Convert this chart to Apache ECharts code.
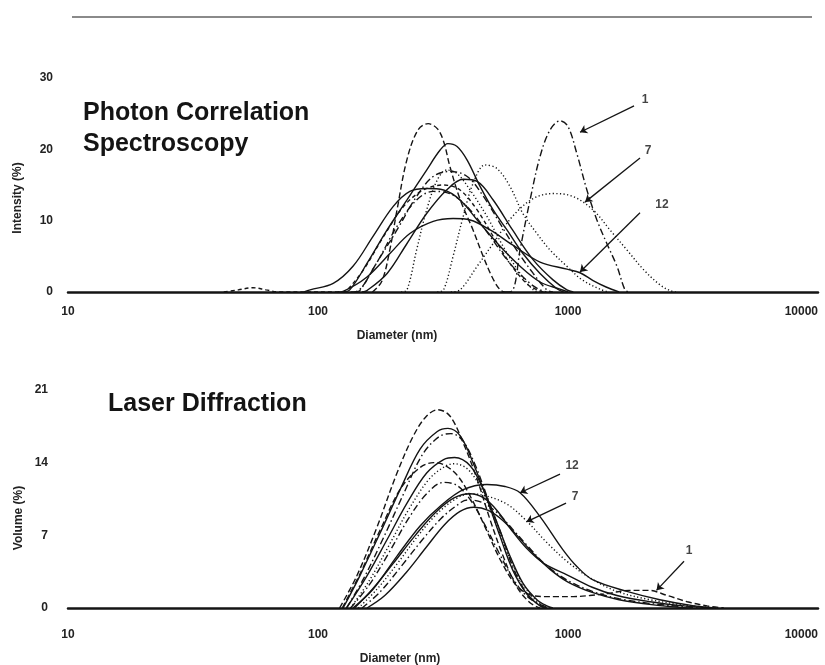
<!DOCTYPE html>
<html>
<head>
<meta charset="utf-8">
<script src="https://cdn.jsdelivr.net/npm/echarts@6/dist/echarts.min.js"></script>
<style>
  html, body { margin: 0; padding: 0; background: #ffffff; }
  #chart { width: 825px; height: 665px; }
</style>
</head>
<body>
<div id="chart"></div>
<script>
// ---- Axis ticks ----
const diameterTicks = [10, 100, 1000, 10000];
const intensityTicks = [0, 10, 20, 30];
const volumeTicks = [0, 7, 14, 21];

// ---- Photon correlation spectroscopy: [diameter (nm), intensity (%)] ----
const pcsSample1 = [[560,0],[600,0.2],[643,5.9],[705,12.9],[773,19],[847,22.7],[929,24],[1000,23.2],[1085,19.4],[1190,14.3],[1305,10.1],[1430,6.8],[1570,3.6],[1690,0.3],[1750,0]];
const pcsSample2 = [[165,0],[180,1.5],[194,6],[207,11.5],[227,18.6],[251,22.7],[276,23.6],[300,22.9],[318,21.1],[337,17.6],[370,13],[417,8.7],[453,5.4],[497,2.1],[535,0.3],[560,0]];
const pcsSample3 = [[125,0],[134,0.3],[157,4],[189,8.7],[227,12.9],[272,17.1],[308,19.9],[331,20.8],[360,20.4],[395,18.5],[445,14.8],[502,11.5],[570,8.7],[660,5.4],[773,2.6],[900,0.5],[960,0]];
const pcsSample4 = [[300,0],[318,0.3],[347,5],[381,10.6],[417,15.2],[466,17.8],[520,17.3],[586,14.8],[660,11],[751,8.2],[847,5.9],[990,3.6],[1140,1.7],[1343,0.4],[1450,0]];
const pcsSample5 = [[140,0],[147,0.2],[171,4],[207,8.7],[248,13.4],[289,16.2],[337,16.9],[395,16.2],[459,13.4],[535,9.6],[622,5.9],[726,2.6],[823,0.3],[870,0]];
const pcsSample6 = [[150,0],[157,0.2],[189,2.6],[227,6.8],[272,11],[327,14.3],[381,15.8],[433,15.5],[502,12.9],[600,8.7],[726,4.5],[871,1.7],[990,0.3],[1050,0]];
const pcsSample7 = [[340,0],[370,0.3],[433,3.6],[502,6.8],[600,10.6],[726,13.1],[871,13.8],[1045,13.4],[1260,11.5],[1472,8.7],[1720,5.9],[2010,3.1],[2333,1],[2559,0.2],[2700,0]];
const pcsSample8 = [[42,0],[48,0.3],[55,0.6],[62,0.3],[70,0],[125,0],[130,0.2],[152,3.1],[183,7.8],[220,12],[264,14.3],[318,15],[370,14.3],[433,11.5],[502,7.8],[586,4],[682,1.2],[751,0.3],[800,0]];
const pcsSample9 = [[215,0],[227,0.3],[248,5.9],[272,11.5],[300,15.7],[327,17.1],[360,16.6],[406,14.3],[474,10.6],[550,6.4],[643,2.6],[726,0.3],[770,0]];
const pcsSample10 = [[135,0],[143,0.1],[171,4],[207,9.2],[248,12.9],[289,14.1],[337,13.8],[406,11.5],[488,7.8],[586,4],[705,1.2],[773,0.3],[820,0]];
const pcsSample11 = [[88,0],[93,0.3],[115,1.2],[138,3.6],[166,7.8],[200,12],[233,14.1],[272,14.5],[318,14.3],[370,12.9],[445,9.6],[535,6.4],[643,3.6],[773,1.4],[929,0.4],[1000,0]];
const pcsSample12 = [[120,0],[126,0.1],[157,2.1],[194,5.4],[233,8.2],[289,9.9],[347,10.3],[406,10.1],[488,8.7],[600,6.6],[773,4.2],[990,3.2],[1117,2.7],[1260,1.6],[1420,0.7],[1600,0]];

// ---- Laser diffraction: [diameter (nm), volume (%)] ----
const ldSample1 = [[125,0],[148,3.4],[178,7.6],[214,11.5],[255,13.5],[290,14],[318,13.8],[360,12.8],[410,10.6],[470,7.6],[540,4.5],[620,2.2],[700,1.3],[800,1.1],[900,1.1],[1050,1.1],[1220,1.2],[1450,1.4],[1750,1.7],[2100,1.7],[2500,1.2],[3000,0.6],[3600,0.2],[4200,0]];
const ldSample2 = [[122,0],[143,3.1],[171,7.6],[207,13],[241,16.6],[272,18.5],[302,19.1],[337,18.5],[381,15.9],[433,12.4],[488,8.5],[550,5],[622,2.1],[705,0.5],[773,0]];
const ldSample3 = [[126,0],[147,3.1],[177,7.2],[213,11.4],[256,15.3],[300,17],[331,17.3],[370,16.6],[417,14],[474,10.5],[535,6.9],[600,3.7],[682,1.4],[773,0.2],[820,0]];
const ldSample4 = [[130,0],[152,2.8],[183,6.8],[220,11],[262,14.8],[305,16.5],[340,16.8],[380,16.1],[425,13.8],[480,10.4],[545,6.9],[610,3.6],[690,1.3],[780,0.2],[830,0]];
const ldSample5 = [[130,0],[157,3.1],[189,6.6],[227,10.1],[272,13],[318,14.3],[352,14.5],[406,13.7],[459,11.4],[520,8.2],[586,5],[660,2.4],[751,0.8],[823,0.2],[870,0]];
const ldSample6 = [[135,0],[160,2.6],[193,6.1],[232,9.6],[278,12.4],[320,13.6],[350,13.9],[400,13.3],[455,11.2],[515,8.1],[580,5],[655,2.4],[740,0.8],[830,0]];
const ldSample7 = [[145,0],[172,1.8],[208,4.3],[252,7],[300,9.1],[355,10.5],[404,11],[470,10.8],[570,10],[682,8.4],[823,6.3],[990,4.5],[1225,2.9],[1570,1.6],[2130,0.8],[2880,0.3],[3900,0]];
const ldSample8 = [[135,0],[160,2.2],[192,5.3],[230,8.6],[272,11],[318,12.1],[360,11.8],[410,10.3],[465,8],[530,5.3],[600,2.9],[680,1.2],[780,0.3],[860,0]];
const ldSample9 = [[140,0],[165,1.8],[200,4.3],[245,7],[295,9.2],[350,10.6],[406,11],[460,10.6],[520,9.4],[590,7.6],[680,5.8],[800,4.3],[990,3.2],[1250,2],[1570,1.2],[2130,0.6],[2900,0.2],[3800,0]];
const ldSample10 = [[150,0],[178,1.6],[215,4],[260,6.5],[310,8.6],[360,9.9],[395,10.4],[450,10.2],[520,9.2],[600,7.6],[700,5.8],[820,4.1],[990,2.7],[1250,1.6],[1600,0.9],[2200,0.4],[3000,0.1],[3600,0]];
const ldSample11 = [[157,0],[185,1.2],[225,3.4],[270,5.8],[320,8],[370,9.3],[420,9.7],[480,9.4],[550,8.4],[630,6.9],[730,5.2],[850,3.7],[1000,2.5],[1250,1.5],[1600,0.8],[2200,0.3],[3000,0]];
const ldSample12 = [[138,0],[166,1.8],[207,5],[256,7.9],[308,9.8],[381,11.4],[474,11.9],[560,11.7],[643,11.1],[773,8.8],[955,5.6],[1085,4],[1260,2.7],[1720,1.6],[2330,0.8],[3200,0.2],[3900,0]];

// ---- Sample call-outs: label text, label anchor, arrow tail, arrow head (data units) ----
const pcsCalloutText = ['1', '7', '12'];
const pcsCalloutLabel = [[2032, 26.9], [2089, 19.8], [2377, 12.2]];
const pcsCalloutFrom = [[1837, 26.1], [1941, 18.8], [1941, 11.1]];
const pcsCalloutTo = [[1117, 22.4], [1170, 12.6], [1117, 2.8]];

const ldCalloutText = ['12', '7', '1'];
const ldCalloutLabel = [[1038, 13.7], [1067, 10.7], [3048, 5.5]];
const ldCalloutFrom = [[929, 12.9], [982, 10.1], [2911, 4.5]];
const ldCalloutTo = [[643, 11.1], [682, 8.3], [2260, 1.7]];

// ---- Styling ----
const INK = '#141414';
const FONT = '"Liberation Sans", Arial, Helvetica, sans-serif';
const DASH = {
  solid: 'solid',
  dashed: [6, 3],
  short: [4, 3],
  dotted: [1.2, 2.4],
  dashdot: [7, 3, 1.5, 3]
};

function curve(name, data, dash, gridIdx) {
  return {
    type: 'line',
    name: name,
    xAxisIndex: gridIdx,
    yAxisIndex: gridIdx,
    data: data,
    symbol: 'none',
    showSymbol: false,
    smooth: 0.35,
    lineStyle: { color: INK, width: 1.4, type: DASH[dash] },
    z: 3,
    silent: true,
    animation: false
  };
}

function callouts(gridIdx, texts, labels, from, to) {
  return {
    type: 'scatter',
    xAxisIndex: gridIdx,
    yAxisIndex: gridIdx,
    symbolSize: 1,
    itemStyle: { color: 'rgba(0,0,0,0)' },
    data: labels.map((p, i) => [p[0], p[1], texts[i]]),
    label: {
      show: true,
      position: 'inside',
      formatter: p => p.value[2],
      color: INK,
      fontFamily: FONT,
      fontSize: 12,
      fontWeight: 'bold'
    },
    markLine: {
      silent: true,
      animation: false,
      symbol: ['none', 'arrow'],
      symbolSize: 7,
      label: { show: false },
      lineStyle: { color: INK, width: 1.3, type: 'solid' },
      data: from.map((f, i) => [{ coord: f }, { coord: to[i] }])
    },
    z: 5,
    silent: true,
    animation: false
  };
}

function xAxisFor(gridIdx, margin) {
  return {
    type: 'log',
    logBase: 10,
    gridIndex: gridIdx,
    min: diameterTicks[0],
    max: diameterTicks[diameterTicks.length - 1],
    axisLine: { show: true, onZero: false, lineStyle: { color: INK, width: 2.5 } },
    axisTick: { show: false },
    minorTick: { show: false },
    splitLine: { show: false },
    axisLabel: {
      color: '#222',
      fontFamily: FONT,
      fontSize: 12,
      fontWeight: 'bold',
      margin: margin,
      alignMaxLabel: 'right',
      formatter: v => String(Math.round(v))
    }
  };
}

function yAxisFor(gridIdx, ticks, margin) {
  return {
    type: 'value',
    gridIndex: gridIdx,
    min: ticks[0],
    max: ticks[ticks.length - 1],
    interval: ticks[1] - ticks[0],
    axisLine: { show: false },
    axisTick: { show: false },
    splitLine: { show: false },
    axisLabel: {
      color: '#222',
      fontFamily: FONT,
      fontSize: 12,
      fontWeight: 'bold',
      margin: margin
    }
  };
}

const pcsSeries = [
  curve('PCS 1', pcsSample1, 'dashdot', 0),
  curve('PCS 2', pcsSample2, 'dashed', 0),
  curve('PCS 3', pcsSample3, 'solid', 0),
  curve('PCS 4', pcsSample4, 'dotted', 0),
  curve('PCS 5', pcsSample5, 'dashdot', 0),
  curve('PCS 6', pcsSample6, 'solid', 0),
  curve('PCS 7', pcsSample7, 'dotted', 0),
  curve('PCS 8', pcsSample8, 'short', 0),
  curve('PCS 9', pcsSample9, 'dotted', 0),
  curve('PCS 10', pcsSample10, 'dashdot', 0),
  curve('PCS 11', pcsSample11, 'solid', 0),
  curve('PCS 12', pcsSample12, 'solid', 0)
];

const ldSeries = [
  curve('LD 1', ldSample1, 'dashed', 1),
  curve('LD 2', ldSample2, 'dashed', 1),
  curve('LD 3', ldSample3, 'solid', 1),
  curve('LD 4', ldSample4, 'dashdot', 1),
  curve('LD 5', ldSample5, 'solid', 1),
  curve('LD 6', ldSample6, 'dotted', 1),
  curve('LD 7', ldSample7, 'dotted', 1),
  curve('LD 8', ldSample8, 'dashdot', 1),
  curve('LD 9', ldSample9, 'solid', 1),
  curve('LD 10', ldSample10, 'dashdot', 1),
  curve('LD 11', ldSample11, 'solid', 1),
  curve('LD 12', ldSample12, 'solid', 1)
];

const titleFont = 'bold 25px ' + FONT;
const smallFont = 'bold 12px ' + FONT;

const option = {
  backgroundColor: '#ffffff',
  animation: false,
  grid: [
    { left: 68, right: 7, top: 78, height: 214 },
    { left: 68, right: 7, top: 390, height: 218 }
  ],
  xAxis: [xAxisFor(0, 14), xAxisFor(1, 21)],
  yAxis: [yAxisFor(0, intensityTicks, 15), yAxisFor(1, volumeTicks, 20)],
  graphic: [
    { type: 'line', silent: true, shape: { x1: 72, y1: 17, x2: 812, y2: 17 }, style: { stroke: '#8a8a8a', lineWidth: 2 } },
    { type: 'text', silent: true, x: 83, y: 113, style: { text: 'Photon Correlation', font: titleFont, fill: INK, verticalAlign: 'middle' } },
    { type: 'text', silent: true, x: 83, y: 144, style: { text: 'Spectroscopy', font: titleFont, fill: INK, verticalAlign: 'middle' } },
    { type: 'text', silent: true, x: 108, y: 404, style: { text: 'Laser Diffraction', font: titleFont, fill: INK, verticalAlign: 'middle' } },
    { type: 'text', silent: true, x: 18, y: 198, rotation: Math.PI / 2, style: { text: 'Intensity (%)', font: smallFont, fill: '#222', align: 'center', verticalAlign: 'middle' } },
    { type: 'text', silent: true, x: 19, y: 518, rotation: Math.PI / 2, style: { text: 'Volume (%)', font: smallFont, fill: '#222', align: 'center', verticalAlign: 'middle' } },
    { type: 'text', silent: true, x: 397, y: 336, style: { text: 'Diameter (nm)', font: smallFont, fill: '#222', align: 'center', verticalAlign: 'middle' } },
    { type: 'text', silent: true, x: 400, y: 659, style: { text: 'Diameter (nm)', font: smallFont, fill: '#222', align: 'center', verticalAlign: 'middle' } }
  ],
  series: pcsSeries.concat(ldSeries).concat([
    callouts(0, pcsCalloutText, pcsCalloutLabel, pcsCalloutFrom, pcsCalloutTo),
    callouts(1, ldCalloutText, ldCalloutLabel, ldCalloutFrom, ldCalloutTo)
  ])
};

const chart = echarts.init(document.getElementById('chart'), null, { renderer: 'canvas' });
chart.setOption(option);
</script>
</body>
</html>
